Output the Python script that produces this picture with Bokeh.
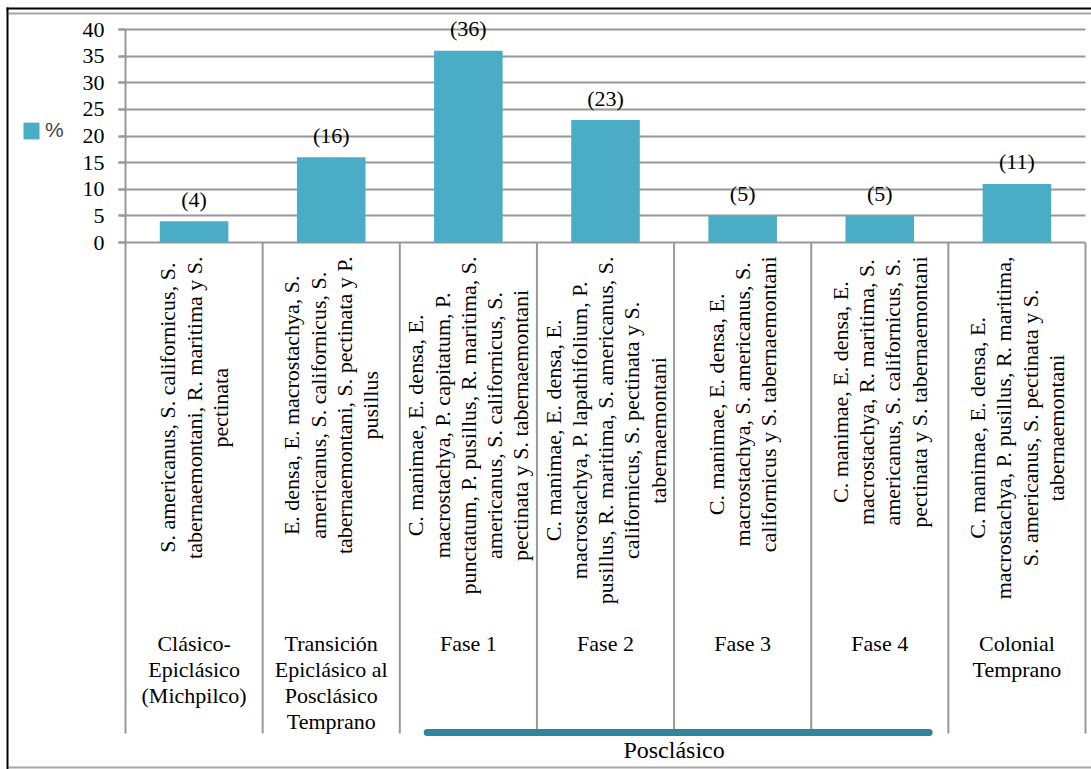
import numpy as np
from bokeh.plotting import figure
from bokeh.models import Range1d, FixedTicker, BoxAnnotation, Legend, LegendItem
from bokeh.core.properties import value
from bokeh.embed import file_html
from bokeh.resources import INLINE

# ---- data -------------------------------------------------------------
periods = [
    "Clásico-\nEpiclásico\n(Michpilco)",
    "Transición\nEpiclásico al\nPosclásico\nTemprano",
    "Fase 1",
    "Fase 2",
    "Fase 3",
    "Fase 4",
    "Colonial\nTemprano",
]
taxa = [
    "S. americanus, S. californicus, S.\ntabernaemontani, R. maritima y S.\npectinata",
    "E. densa, E. macrostachya, S.\namericanus, S. californicus, S.\ntabernaemontani, S. pectinata y P.\npusillus",
    "C. manimae, E. densa, E.\nmacrostachya, P. capitatum, P.\npunctatum, P. pusillus, R. maritima, S.\namericanus, S. californicus, S.\npectinata y S. tabernaemontani",
    "C. manimae, E. densa, E.\nmacrostachya, P. lapathifolium, P.\npusillus, R. maritima, S. americanus, S.\ncalifornicus, S. pectinata y S.\ntabernaemontani",
    "C. manimae, E. densa, E.\nmacrostachya, S. americanus, S.\ncalifornicus y S. tabernaemontani",
    "C. manimae, E. densa, E.\nmacrostachya, R. maritima, S.\namericanus, S. californicus, S.\npectinata y S. tabernaemontani",
    "C. manimae, E. densa, E.\nmacrostachya, P. pusillus, R. maritima,\nS. americanus, S. pectinata y S.\ntabernaemontani",
]
percent = [4, 16, 36, 23, 5, 5, 11]
group_name = "Posclásico"
group_span = (2, 6)          # Fase 1 .. Fase 4
y_ticks = [0, 5, 10, 15, 20, 25, 30, 35, 40]
series_name = "%"

# ---- layout constants (pixels) ---------------------------------------
W, H = 1091, 769
X0_PX, X7_PX = 125, 1085           # category band edges
Y0_PX, Y40_PX = 242, 29            # value axis 0 and 40
n = len(percent)
kx = (X7_PX - X0_PX) / n
ky = (Y0_PX - Y40_PX) / max(y_ticks)

def xdat(px):
    return (px - X0_PX) / kx

def ydat(px):
    return (Y0_PX - px) / ky

SERIF = "Liberation Serif"
FS = "22px"
LH = 1.05
GRID = "#989898"
BAR = "#4BACC6"
GROUP = "#31849B"

# the frame covers the whole canvas; the value axis sits at x = 0
p = figure(
    width=W, height=H,
    x_range=Range1d(xdat(0), xdat(W)), y_range=Range1d(ydat(H), ydat(0)),
    x_axis_location=None,
    output_backend="svg", toolbar_location=None,
    min_border=0,
    background_fill_color="white", border_fill_color="white",
    outline_line_color=None,
)

# value axis
ax = p.yaxis[0]
ax.fixed_location = 0
ax.ticker = FixedTicker(ticks=y_ticks)
ax.axis_line_color = None
ax.major_tick_in = 0
ax.major_tick_out = 7
ax.major_tick_line_color = GRID
ax.major_tick_line_width = 2
ax.minor_tick_line_color = None
ax.major_label_standoff = 14
ax.major_label_text_font = SERIF
ax.major_label_text_font_size = FS
ax.major_label_text_color = "black"

p.xgrid.visible = False
p.ygrid.grid_line_color = GRID
p.ygrid.grid_line_width = 2
p.ygrid.cross_bounds = (xdat(118), n)

xs = np.arange(n) + 0.5

# bars
bars = p.vbar(x=xs, top=percent, bottom=0, width=0.5,
              fill_color=BAR, line_color=None)

# value labels above bars
p.text(x=xs, y=percent, text=[f"({v})" for v in percent],
       text_align="center", text_baseline="alphabetic", y_offset=-22,
       text_font=value(SERIF), text_font_size=FS, text_color="black")

# category cell separators below the axis
sep_bottom = ydat(733)
edges = np.arange(n + 1)
p.segment(x0=edges, y0=[max(y_ticks)] + [0] * n, x1=edges, y1=[sep_bottom] * (n + 1),
          line_color=GRID, line_width=2)

# rotated species lists
p.text(x=xs, y=[ydat(256)] * n, text=taxa, angle=np.pi / 2,
       anchor="center_right", text_align="center",
       text_font=value(SERIF), text_font_size=FS, text_line_height=LH,
       text_color="black")

# period names
p.text(x=xs, y=[ydat(630)] * n, text=periods,
       anchor="top_center", text_align="center",
       text_font=value(SERIF), text_font_size=FS, text_line_height=LH,
       text_color="black")

# group bracket for the Posclásico phases
g0, g1 = group_span
p.segment(x0=[g0 + 0.2], y0=[ydat(732)], x1=[g1 - 0.14], y1=[ydat(732)],
          line_color=GROUP, line_width=7, line_cap="round")
p.text(x=[(g0 + g1) / 2], y=[ydat(749)], text=[group_name],
       text_align="center", text_baseline="middle",
       text_font=value(SERIF), text_font_size="24px", text_color="black")

# legend at the left margin
legend = Legend(
    items=[LegendItem(label=series_name, renderers=[bars])],
    location=(21, 627), padding=0, margin=0, spacing=0,
    border_line_color=None, background_fill_alpha=0,
    glyph_width=20, glyph_height=21, label_standoff=4,
    label_text_font="Liberation Sans", label_text_font_size="21px",
)
p.add_layout(legend)

# chart frame rules
def rule(l, r, t, b, color):
    return BoxAnnotation(left=l, right=r, top=t, bottom=b,
                         left_units="canvas", right_units="canvas",
                         top_units="canvas", bottom_units="canvas",
                         fill_color=color, fill_alpha=1.0, line_color=None,
                         level="overlay")

p.add_layout(rule(6, 1091, 7, 9, "black"))
p.add_layout(rule(8, 1091, 12, 14, "#a6a6a6"))
p.add_layout(rule(8, 1091, 766, 768, "#a6a6a6"))
p.add_layout(rule(6, 8, 7, 769, "black"))

open("out.html", "w").write(file_html(p, INLINE))
